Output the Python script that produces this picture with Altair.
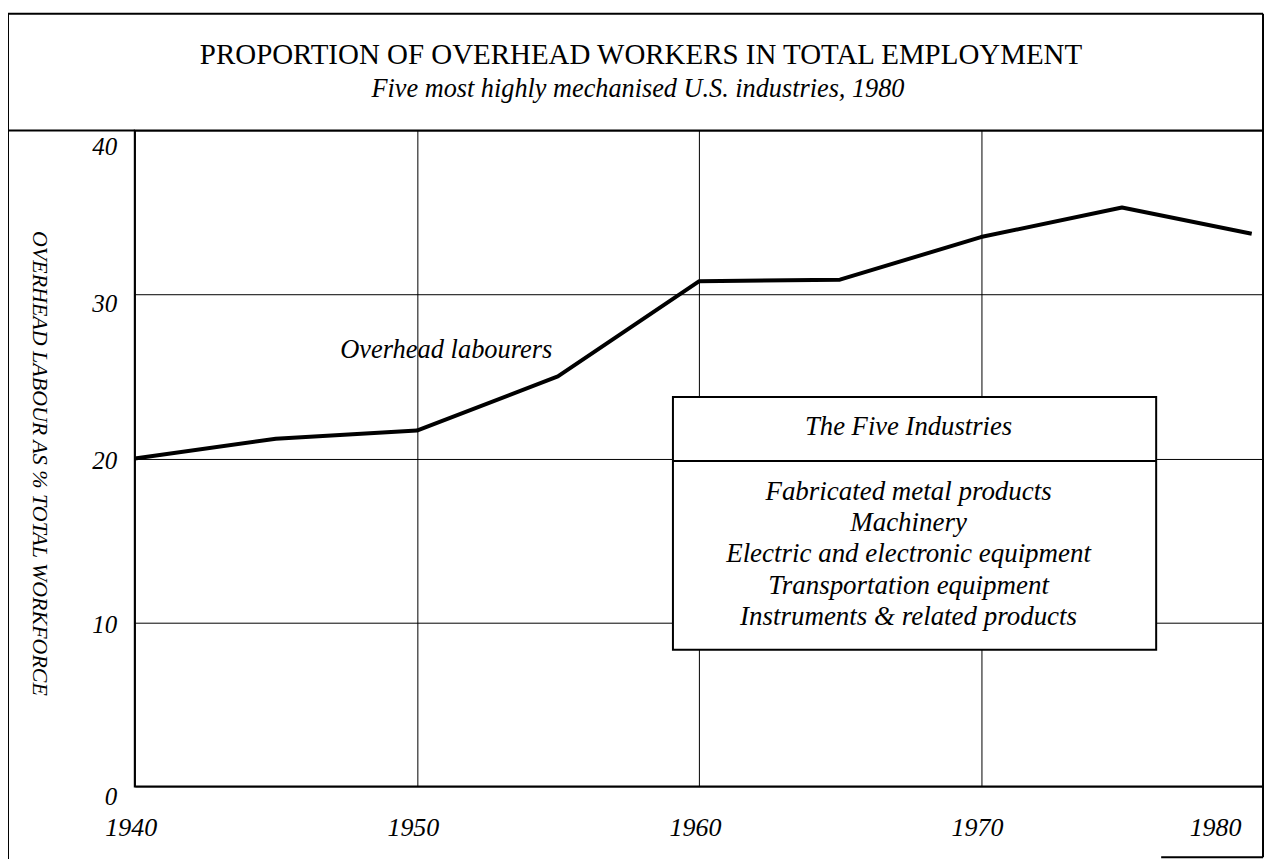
import altair as alt
import pandas as pd

# ---- data ----
years = [1940, 1945, 1950, 1955, 1960, 1965, 1970, 1975, 1979.6]
overhead_pct = [20.0, 21.2, 21.7, 25.0, 30.8, 30.9, 33.5, 35.3, 33.7]
x_ticks = [1940, 1950, 1960, 1970, 1980]
y_ticks = [0, 10, 20, 30, 40]
industries = [
    "Fabricated metal products",
    "Machinery",
    "Electric and electronic equipment",
    "Transportation equipment",
    "Instruments & related products",
]
title_text = "PROPORTION OF OVERHEAD WORKERS IN TOTAL EMPLOYMENT"
subtitle_text = "Five most highly mechanised U.S. industries, 1980"
series_label = "Overhead labourers"
legend_title = "The Five Industries"
y_title = "OVERHEAD LABOUR AS % TOTAL WORKFORCE"

FONT = "Liberation Serif"
W, H = 1130, 657

df = pd.DataFrame({"year": years, "pct": overhead_pct})
one = pd.DataFrame({"k": [0]})

xscale = alt.Scale(domain=[1940, 1980], nice=False, zero=False)
yscale = alt.Scale(domain=[0, 40], nice=False)

x_axis = alt.Axis(
    values=x_ticks, format="d", grid=True, gridColor="black", gridWidth=1,
    ticks=False, domain=False, labelFont=FONT, labelFontSize=26,
    labelFontStyle="italic", labelColor="black", labelPadding=28,
    labelFlush=False, labelOverlap=False, labelAngle=0,
    labelOffset={"condition": {"test": "datum.value == 1980", "value": -48}, "value": -4},
    title=None,
)
y_axis = alt.Axis(
    values=y_ticks, format="d", grid=True, gridColor="black", gridWidth=1,
    ticks=False, domain=False, labelFont=FONT, labelFontSize=25,
    labelFontStyle="italic", labelColor="black", labelPadding=18,
    labelOverlap=False,
    labelOffset={"condition": [
        {"test": "datum.value == 40", "value": 16},
        {"test": "datum.value == 30", "value": 9},
        {"test": "datum.value == 0", "value": 10},
    ], "value": 2},
    title=y_title, titleAngle=90, titleX=-95, titleY=333, titleAlign="center",
    titleBaseline="middle", titleFont=FONT, titleFontSize=22,
    titleFontStyle="italic", titleFontWeight="normal", titleColor="black",
)

line = alt.Chart(df).mark_line(color="black", strokeWidth=4, strokeJoin="round").encode(
    x=alt.X("year:Q", scale=xscale, axis=x_axis),
    y=alt.Y("pct:Q", scale=yscale, axis=y_axis),
)


def rule(x1, x2, y1, y2, w=2):
    return alt.Chart(one).mark_rule(color="black", strokeWidth=w).encode(
        x=alt.value(x1), x2=alt.value(x2), y=alt.value(y1), y2=alt.value(y2)
    )


frame = [
    rule(-127, -127, -117, 730),      # left frame
    rule(-127, W, -117, -117),        # top frame
    rule(W, W, -117, 728),            # right frame
    rule(-127, 0, 0, 0),              # title separator (left part)
    rule(1028, W, 728, 728),          # visible bottom fragment
]


def text(t, x, y, size, style="normal", align="center", lh=None):
    kw = dict(font=FONT, fontSize=size, fontStyle=style, color="black",
              align=align, baseline="alphabetic", text=t)
    if lh:
        kw["lineHeight"] = lh
    return alt.Chart(one).mark_text(**kw).encode(x=alt.value(x), y=alt.value(y))


title = text(title_text, 507, -67, 29)
subtitle = text(subtitle_text, 504, -34, 26.3, "italic")
series = text(series_label, 312, 228, 26.5, "italic")

box = alt.Chart(one).mark_rect(fill="white", stroke="black", strokeWidth=2).encode(
    x=alt.value(539), x2=alt.value(1023), y=alt.value(267), y2=alt.value(520)
)
divider = rule(539, 1023, 331, 331, 2)
leg_title = text(legend_title, 775, 305, 26.7, "italic")
leg_items = text(industries, 775, 370, 27, "italic", lh=31.3)

chart = alt.layer(
    line, *frame, title, subtitle, series, box, divider, leg_title, leg_items
).properties(
    width=W, height=H,
    autosize=alt.AutoSizeParams(type="none"),
    padding={"left": 127, "top": 122, "right": 2, "bottom": 72},
    background="white",
).configure_view(stroke="black", strokeWidth=2)

chart.save("out.html", embed_options={"renderer": "svg", "actions": False})
